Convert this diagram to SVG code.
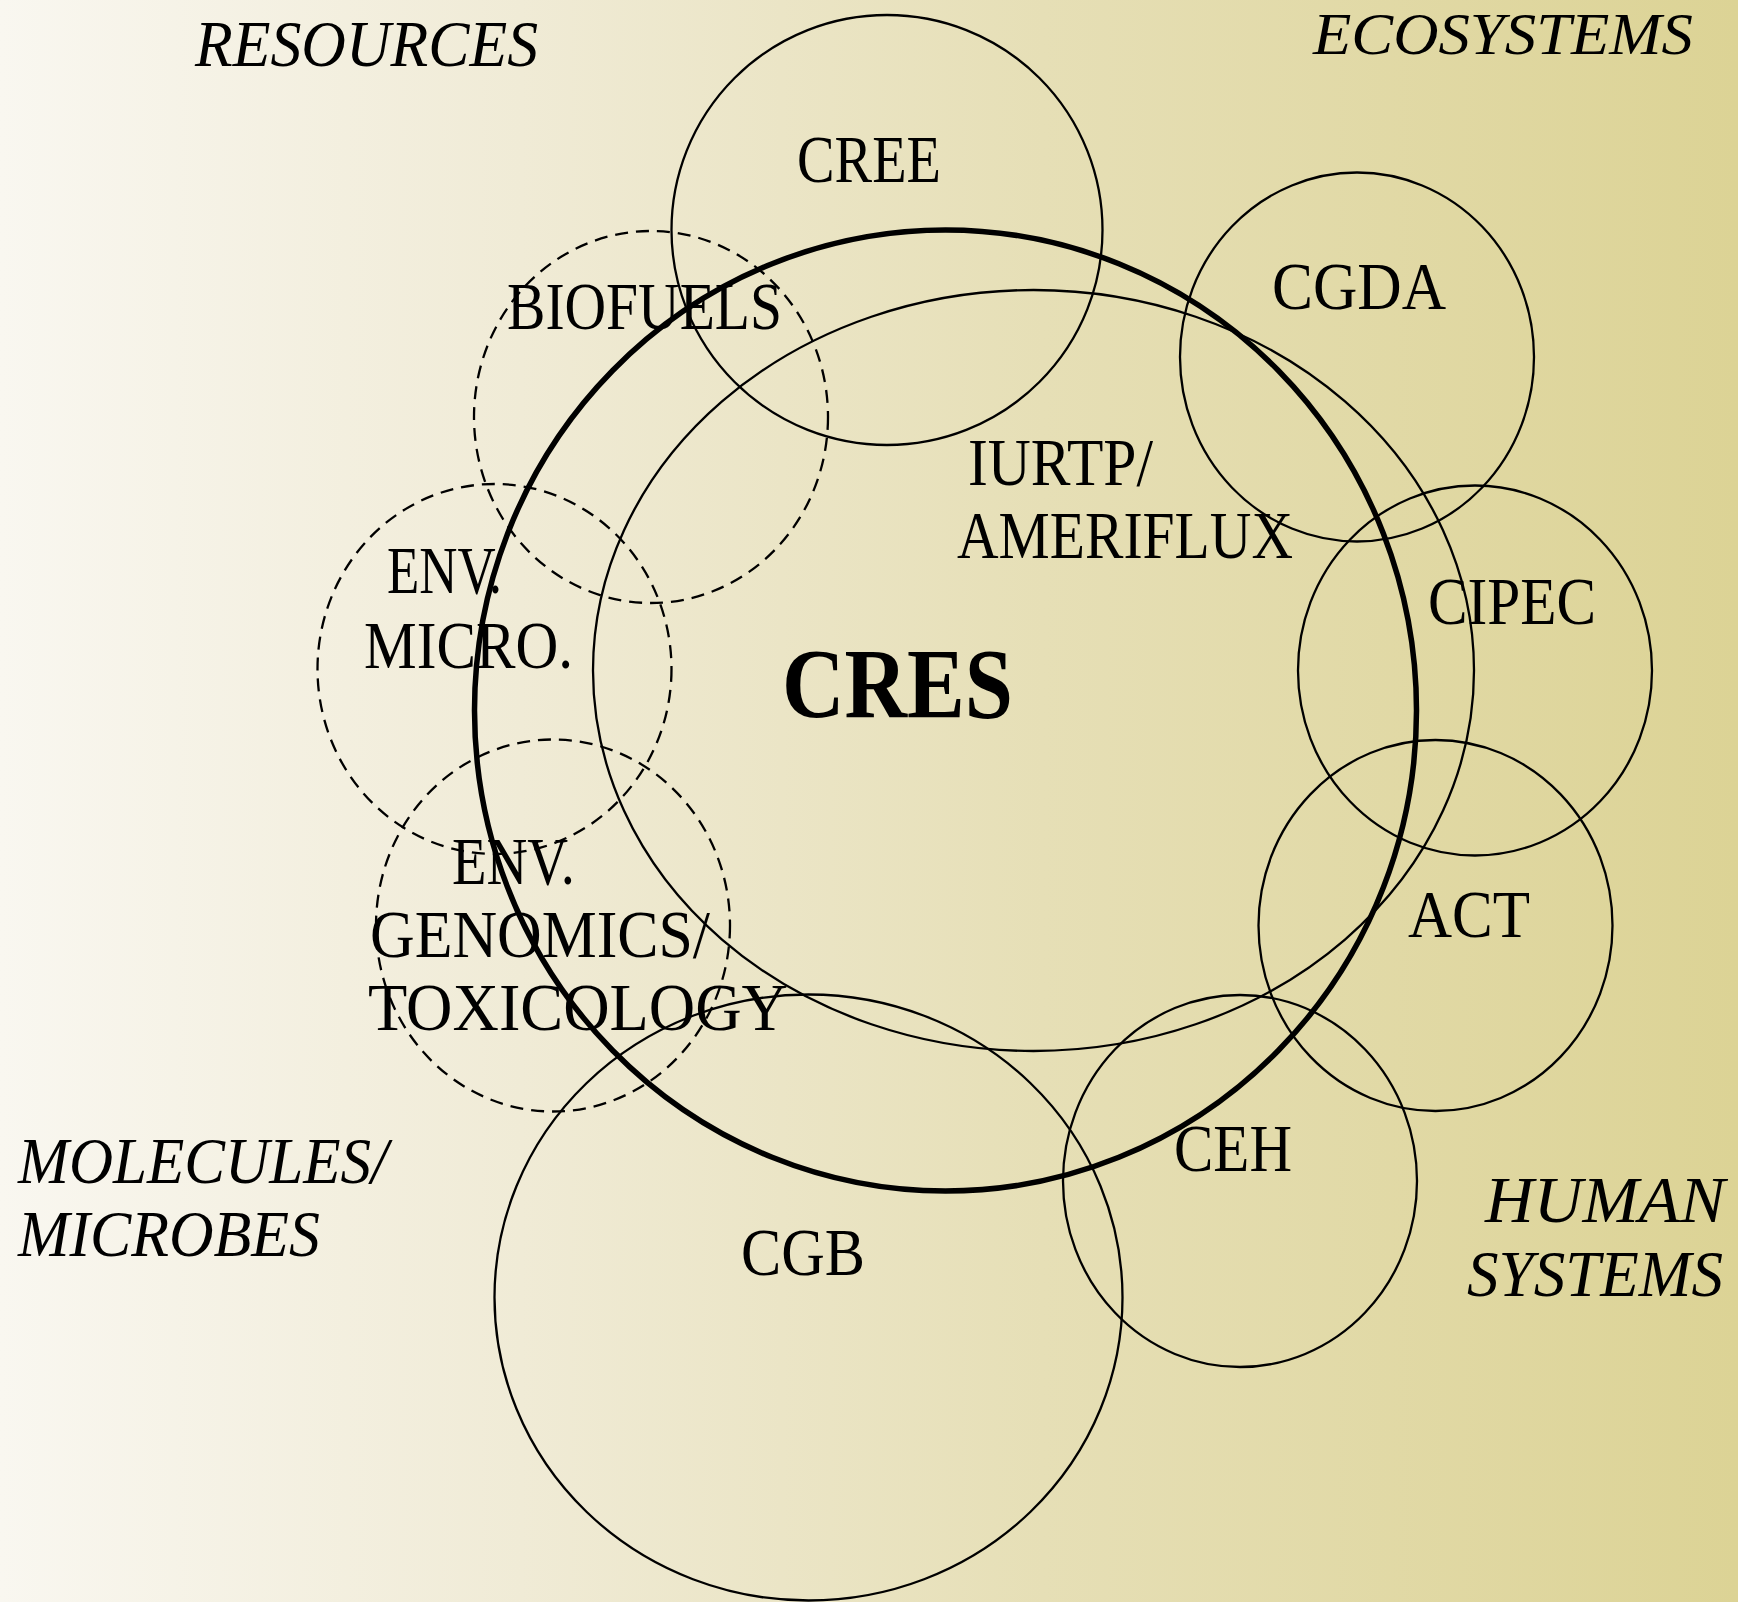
<svg xmlns="http://www.w3.org/2000/svg" width="1738" height="1602" viewBox="0 0 1738 1602">
  <defs>
    <linearGradient id="bg" x1="0" y1="0" x2="1" y2="0">
      <stop offset="0" stop-color="#f9f7f0"/>
      <stop offset="0.3" stop-color="#f0ebd6"/>
      <stop offset="0.6" stop-color="#e6dfb6"/>
      <stop offset="1" stop-color="#dcd395"/>
    </linearGradient>
    <style>
      .ring { fill: none; stroke: #000; stroke-width: 2.3; }
      .dash { fill: none; stroke: #000; stroke-width: 2.3; stroke-dasharray: 13 8; }
      .core { fill: none; stroke: #000; stroke-width: 5.5; }
      .lbl { font-family: "Liberation Serif", "Times New Roman", serif; font-size: 68px; fill: #000; }
      .area { font-family: "Liberation Serif", "Times New Roman", serif; font-size: 66px; font-style: italic; fill: #000; }
      .hub { font-family: "Liberation Serif", "Times New Roman", serif; font-size: 100px; font-weight: bold; fill: #000; }
    </style>
  </defs>

  <rect width="1738" height="1602" fill="url(#bg)"/>

  <!-- quadrant headings -->
  <g id="areas">
    <text class="area" x="195" y="66" textLength="343" lengthAdjust="spacingAndGlyphs">RESOURCES</text>
    <text class="area" x="1313" y="54" style="font-size:60px" textLength="380" lengthAdjust="spacingAndGlyphs">ECOSYSTEMS</text>
    <text class="area" x="18" y="1183" textLength="370" lengthAdjust="spacingAndGlyphs">MOLECULES/</text>
    <text class="area" x="18" y="1256" textLength="302" lengthAdjust="spacingAndGlyphs">MICROBES</text>
    <text class="area" x="1485" y="1222" textLength="240" lengthAdjust="spacingAndGlyphs">HUMAN</text>
    <text class="area" x="1467" y="1296" textLength="256" lengthAdjust="spacingAndGlyphs">SYSTEMS</text>
  </g>

  <g id="iurtp">
    <ellipse class="ring" cx="1033.5" cy="670.5" rx="440.5" ry="380.5"/>
    <text class="lbl" x="968" y="485" textLength="185" lengthAdjust="spacingAndGlyphs">IURTP/</text>
    <text class="lbl" x="957" y="558" textLength="336" lengthAdjust="spacingAndGlyphs">AMERIFLUX</text>
  </g>

  <g id="cree">
    <ellipse class="ring" cx="887" cy="230" rx="215.5" ry="215"/>
    <text class="lbl" x="797" y="182" textLength="144" lengthAdjust="spacingAndGlyphs">CREE</text>
  </g>

  <g id="cgda">
    <ellipse class="ring" cx="1357" cy="357" rx="177" ry="184.5"/>
    <text class="lbl" x="1272" y="309" textLength="174" lengthAdjust="spacingAndGlyphs">CGDA</text>
  </g>

  <g id="cipec">
    <ellipse class="ring" cx="1475" cy="670.5" rx="177" ry="185"/>
    <text class="lbl" x="1428" y="624" textLength="168" lengthAdjust="spacingAndGlyphs">CIPEC</text>
  </g>

  <g id="act">
    <ellipse class="ring" cx="1435.5" cy="925.5" rx="177" ry="185.5"/>
    <text class="lbl" x="1408" y="937" textLength="122" lengthAdjust="spacingAndGlyphs">ACT</text>
  </g>

  <g id="ceh">
    <ellipse class="ring" cx="1240" cy="1181" rx="177" ry="186"/>
    <text class="lbl" x="1174" y="1171" textLength="118" lengthAdjust="spacingAndGlyphs">CEH</text>
  </g>

  <g id="cgb">
    <ellipse class="ring" cx="808.5" cy="1297.5" rx="314" ry="303"/>
    <text class="lbl" x="741" y="1275" textLength="124" lengthAdjust="spacingAndGlyphs">CGB</text>
  </g>

  <g id="biofuels">
    <ellipse class="dash" cx="651" cy="417" rx="177" ry="186"/>
    <text class="lbl" x="507" y="329" textLength="275" lengthAdjust="spacingAndGlyphs">BIOFUELS</text>
  </g>

  <g id="env-micro">
    <ellipse class="dash" cx="494.5" cy="669" rx="177" ry="185"/>
    <text class="lbl" x="387" y="593" textLength="115" lengthAdjust="spacingAndGlyphs">ENV.</text>
    <text class="lbl" x="364" y="668" textLength="209" lengthAdjust="spacingAndGlyphs">MICRO.</text>
  </g>

  <g id="env-genomics">
    <ellipse class="dash" cx="553" cy="925.5" rx="177" ry="186"/>
    <text class="lbl" x="452" y="884" textLength="123" lengthAdjust="spacingAndGlyphs">ENV.</text>
    <text class="lbl" x="370" y="957" textLength="340" lengthAdjust="spacingAndGlyphs">GENOMICS/</text>
    <text class="lbl" x="368" y="1030" textLength="420" lengthAdjust="spacingAndGlyphs">TOXICOLOGY</text>
  </g>

  <!-- central hub -->
  <g id="cres">
    <ellipse class="core" cx="945.5" cy="710.5" rx="471" ry="480.5"/>
    <text class="hub" x="782" y="717" textLength="231" lengthAdjust="spacingAndGlyphs">CRES</text>
  </g>

  <g id="connectors"/>
</svg>
